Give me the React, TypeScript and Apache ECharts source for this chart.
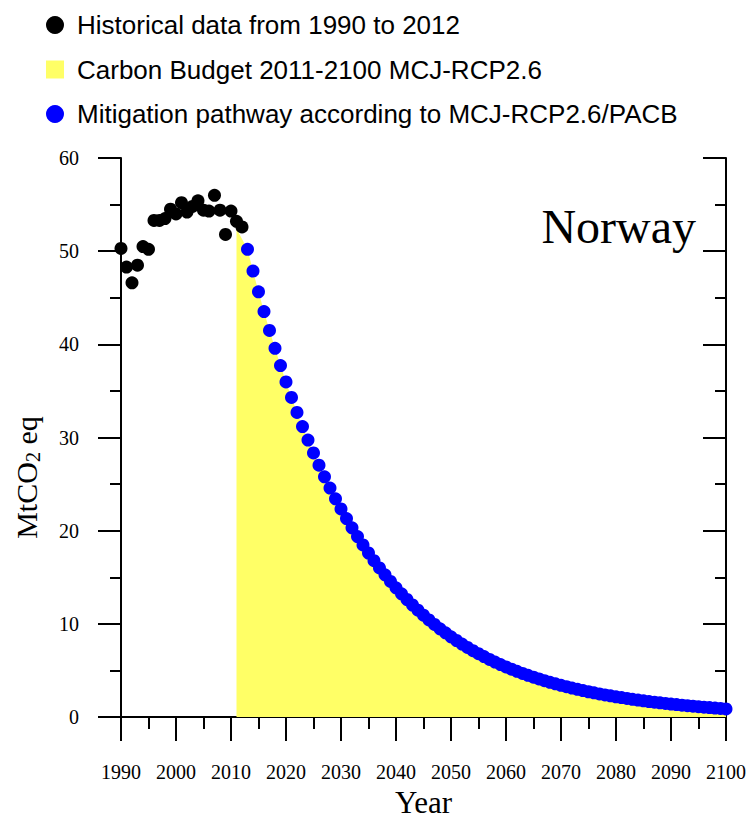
import React, { useEffect, useRef } from "react";
import * as echarts from "echarts";

// Historical emissions 1990-2012 (MtCO2 eq)
const histStartYear = 1990;
const histValues = [
  50.3, 48.3, 46.6, 48.5, 50.5, 50.2, 53.3, 53.3, 53.5, 54.5, 54.0, 55.2,
  54.2, 54.8, 55.4, 54.4, 54.3, 56.0, 54.4, 51.8, 54.3, 53.2, 52.6,
];

// Carbon budget area 2011-2012 (start of the yellow area before the pathway dots)
const budgetStartYear = 2011;
const budgetHead = [52.4, 51.3];

// Mitigation pathway 2013-2100 (MtCO2 eq)
const pathStartYear = 2013;
const pathValues = [
  50.2, 47.87, 45.64, 43.52, 41.5, 39.57, 37.73, 35.97, 34.3, 32.7,
  31.18, 29.73, 28.35, 27.03, 25.78, 24.58, 23.43, 22.34, 21.31, 20.31,
  19.37, 18.47, 17.61, 16.79, 16.01, 15.27, 14.56, 13.88, 13.23, 12.62,
  12.03, 11.47, 10.94, 10.43, 9.95, 9.48, 9.04, 8.62, 8.22, 7.84,
  7.47, 7.13, 6.8, 6.49, 6.19, 5.91, 5.64, 5.38, 5.14, 4.91,
  4.69, 4.48, 4.28, 4.09, 3.91, 3.73, 3.57, 3.41, 3.26, 3.12,
  2.98, 2.85, 2.72, 2.6, 2.49, 2.38, 2.28, 2.18, 2.09, 2.0,
  1.91, 1.83, 1.75, 1.67, 1.6, 1.53, 1.46, 1.4, 1.34, 1.28,
  1.22, 1.17, 1.12, 1.07, 1.02, 0.97, 0.93, 0.88,
];

const xTicks = { min: 1990, max: 2100, interval: 10 };
const yTicks = { min: 0, max: 60, interval: 10 };

const legendNames = [
  "Historical data from 1990 to 2012",
  "Carbon Budget 2011-2100 MCJ-RCP2.6",
  "Mitigation pathway according to MCJ-RCP2.6/PACB",
];

const serif = "'Liberation Serif', 'Times New Roman', serif";
const sans = "'Liberation Sans', Arial, sans-serif";

export default function App() {
  const ref = useRef<HTMLDivElement>(null);

  useEffect(() => {
    if (!ref.current) return;
    const chart = echarts.init(ref.current, undefined, { renderer: "svg" });

    const hist = histValues.map((v, i) => [histStartYear + i, v]);
    const path = pathValues.map((v, i) => [pathStartYear + i, v]);
    const budget = [
      ...budgetHead.map((v, i) => [budgetStartYear + i, v]),
      ...path,
    ];

    const axisLine = { show: true, lineStyle: { color: "#000", width: 2 } };

    chart.setOption({
      animation: false,
      backgroundColor: "#fff",
      grid: { left: 121, right: 20, top: 158, bottom: 97, containLabel: false },
      legend: {
        orient: "vertical",
        left: 41,
        top: 6,
        itemWidth: 18,
        itemHeight: 18,
        itemGap: 16.5,
        textStyle: {
          fontFamily: sans,
          fontSize: 26,
          color: "#000",
          lineHeight: 28,
          padding: [0, 0, 0, 8],
        },
        data: [
          { name: legendNames[0], icon: "circle" },
          { name: legendNames[1], icon: "rect" },
          { name: legendNames[2], icon: "circle" },
        ],
      },
      xAxis: [
        {
          type: "value",
          position: "bottom",
          min: xTicks.min,
          max: xTicks.max,
          interval: xTicks.interval,
          axisLine,
          axisTick: { show: true, inside: false, length: 24, lineStyle: { color: "#000", width: 2 } },
          minorTick: { show: true, splitNumber: 2, length: 12, lineStyle: { color: "#000", width: 2 } },
          splitLine: { show: false },
          axisLabel: {
            fontFamily: serif,
            fontSize: 20,
            color: "#000",
            margin: 45,
            formatter: (v: number) => String(v),
          },
          name: "Year",
          nameLocation: "middle",
          nameGap: 64,
          nameTextStyle: { fontFamily: serif, fontSize: 31, color: "#000" },
        },
        {
          type: "value",
          position: "top",
          min: xTicks.min,
          max: xTicks.max,
          interval: xTicks.interval,
          axisLine,
          axisTick: { show: true, inside: true, length: 22, lineStyle: { color: "#000", width: 2 } },
          minorTick: { show: true, splitNumber: 2, length: 11, lineStyle: { color: "#000", width: 2 } },
          splitLine: { show: false },
          axisLabel: { show: false },
        },
      ],
      yAxis: [
        {
          type: "value",
          position: "left",
          min: yTicks.min,
          max: yTicks.max,
          interval: yTicks.interval,
          axisLine,
          axisTick: { show: true, inside: false, length: 23, lineStyle: { color: "#000", width: 2 } },
          minorTick: { show: true, splitNumber: 2, length: 11, lineStyle: { color: "#000", width: 2 } },
          splitLine: { show: false },
          axisLabel: { fontFamily: serif, fontSize: 20, color: "#000", margin: 42 },
          name: "{a|MtCO}{b|2}{a| eq}",
          nameLocation: "middle",
          nameGap: 78,
          nameRotate: 90,
          nameTextStyle: {
            color: "#000",
            padding: [0, 80, 0, 0],
            rich: {
              a: { fontFamily: serif, fontSize: 30, color: "#000" },
              b: { fontFamily: serif, fontSize: 20, color: "#000", padding: [13, 0, 0, 0] },
            },
          },
        },
        {
          type: "value",
          position: "right",
          min: yTicks.min,
          max: yTicks.max,
          interval: yTicks.interval,
          axisLine,
          axisTick: { show: true, inside: true, length: 23, lineStyle: { color: "#000", width: 2 } },
          minorTick: { show: true, splitNumber: 2, length: 11, lineStyle: { color: "#000", width: 2 } },
          splitLine: { show: false },
          axisLabel: { show: false },
        },
      ],
      graphic: [
        {
          type: "text",
          right: 53,
          top: 202,
          style: {
            text: "Norway",
            fontFamily: serif,
            fontSize: 48,
            fill: "#000",
          },
        },
      ],
      series: [
        {
          name: legendNames[1],
          type: "line",
          data: budget,
          showSymbol: false,
          symbol: "none",
          itemStyle: { color: "#FFFF66" },
          lineStyle: { width: 0, color: "#FFFF66" },
          areaStyle: { color: "#FFFF66", opacity: 1 },
          z: 1,
        },
        {
          name: legendNames[0],
          type: "scatter",
          data: hist,
          symbol: "circle",
          symbolSize: 13,
          itemStyle: { color: "#000", opacity: 1 },
          z: 3,
        },
        {
          name: legendNames[2],
          type: "scatter",
          data: path,
          symbol: "circle",
          symbolSize: 13,
          itemStyle: { color: "#0000FF", opacity: 1 },
          z: 4,
        },
      ],
    });

    return () => chart.dispose();
  }, []);

  return (
    <div
      ref={ref}
      style={{ position: "absolute", left: 0, top: 0, width: 749, height: 823 }}
    />
  );
}
